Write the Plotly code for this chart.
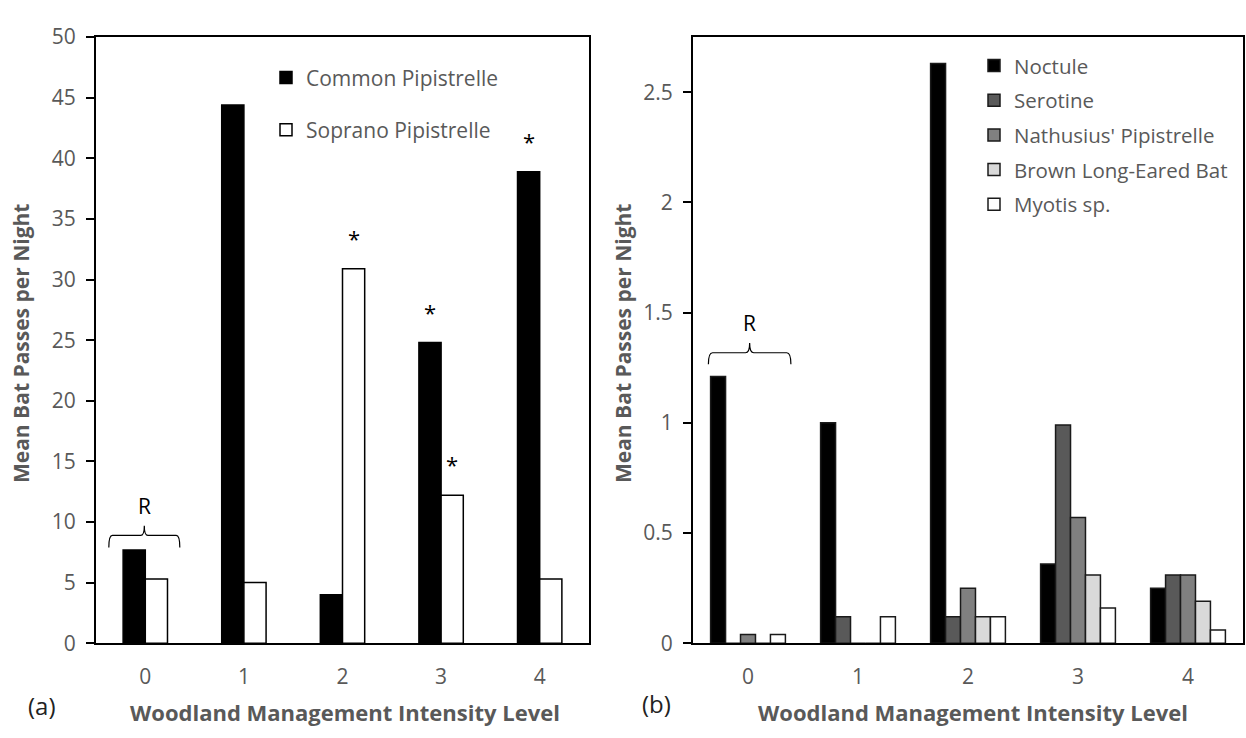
import plotly.graph_objects as go

# ---------------- data ----------------
levels = [0, 1, 2, 3, 4]
level_labels = ["0", "1", "2", "3", "4"]

common_pip = [7.7, 44.4, 4.0, 24.8, 38.9]
soprano_pip = [5.3, 5.0, 30.9, 12.2, 5.3]
common_sig = [False, False, False, True, True]
soprano_sig = [False, False, True, True, False]

noctule = [1.21, 1.0, 2.63, 0.36, 0.25]
serotine = [0.0, 0.12, 0.12, 0.99, 0.31]
nathusius = [0.04, 0.0, 0.25, 0.57, 0.31]
brown_long_eared = [0.0, 0.0, 0.12, 0.31, 0.19]
myotis = [0.04, 0.12, 0.12, 0.16, 0.06]

left_ticks = [0, 5, 10, 15, 20, 25, 30, 35, 40, 45, 50]
right_ticks = [0, 0.5, 1, 1.5, 2, 2.5]

# ---------------- styling ----------------
W, H = 1246, 738
FONT = "Open Sans"
GREY = "#595959"

def px_x(v):
    return v / W

def px_y(v):
    return 1 - v / H

fig = go.Figure()

# left panel bars
lw = 0.225
left_series = [
    ("Common Pipistrelle", common_pip, "#000000"),
    ("Soprano Pipistrelle", soprano_pip, "#ffffff"),
]
for i, (name, vals, col) in enumerate(left_series):
    fig.add_trace(go.Bar(
        x=levels, y=vals, name=name, xaxis="x", yaxis="y",
        width=lw, offset=-lw + i * lw,
        marker=dict(color=col, line=dict(color="#000000", width=1.5)),
        legend="legend", legendgroup=name,
    ))

# right panel bars
rw = 0.136
right_series = [
    ("Noctule", noctule, "#000000"),
    ("Serotine", serotine, "#595959"),
    ("Nathusius' Pipistrelle", nathusius, "#808080"),
    ("Brown Long-Eared Bat", brown_long_eared, "#d9d9d9"),
    ("Myotis sp.", myotis, "#ffffff"),
]
for i, (name, vals, col) in enumerate(right_series):
    fig.add_trace(go.Bar(
        x=levels, y=vals, name=name, xaxis="x2", yaxis="y2",
        width=rw, offset=-2.5 * rw + i * rw,
        marker=dict(color=col, line=dict(color="#1a1a1a", width=1.5)),
        legend="legend2", legendgroup=name,
    ))

annotations = []

# significance asterisks
for vals, sig, off in [(common_pip, common_sig, -lw / 2), (soprano_pip, soprano_sig, lw / 2)]:
    for lv, v, s in zip(levels, vals, sig):
        if s:
            annotations.append(dict(
                x=lv + off, y=v, xref="x", yref="y", text="*", showarrow=False,
                xanchor="center", yanchor="bottom", yshift=14,
                font=dict(family=FONT, size=22, color="#000000"),
            ))

# reference braces "R"
def brace(x0, x1, yt, yh, ys, xref, yref, dxf=0.05):
    xc = (x0 + x1) / 2
    dx = (x1 - x0) * dxf
    path = (f"M {x0},{yt} Q {x0},{yh} {x0+dx},{yh} L {xc-dx},{yh} Q {xc},{yh} {xc},{ys} "
            f"Q {xc},{yh} {xc+dx},{yh} L {x1-dx},{yh} Q {x1},{yh} {x1},{yt}")
    return dict(type="path", path=path, xref=xref, yref=yref,
                line=dict(color="#000000", width=1.2))

shapes = [
    brace(-0.37, 0.35, 7.9, 8.9, 9.7, "x", "y"),
    brace(-0.36, 0.39, 1.266, 1.318, 1.362, "x2", "y2"),
]
annotations.append(dict(x=-0.01, y=11.3, xref="x", yref="y", text="R", showarrow=False,
                        xanchor="center", yanchor="middle",
                        font=dict(family=FONT, size=21, color="#000000")))
annotations.append(dict(x=0.01, y=1.453, xref="x2", yref="y2", text="R", showarrow=False,
                        xanchor="center", yanchor="middle",
                        font=dict(family=FONT, size=21, color="#000000")))

# axis titles
for xc in [345, 973]:
    annotations.append(dict(x=px_x(xc), y=px_y(725), xref="paper", yref="paper",
                            xanchor="center", yanchor="middle",
                            text="<b>Woodland Management Intensity Level</b>", showarrow=False,
                            font=dict(family=FONT, size=22, color=GREY)))
for xc in [21, 623]:
    annotations.append(dict(x=px_x(xc), y=px_y(341), xref="paper", yref="paper",
                            xanchor="center", yanchor="middle",
                            text="<b>Mean Bat Passes per Night</b>", showarrow=False, textangle=-90,
                            font=dict(family=FONT, size=21, color=GREY)))
# panel labels
annotations.append(dict(x=px_x(42), y=px_y(718), xref="paper", yref="paper", text="(a)",
                        xanchor="center", yanchor="middle",
                        showarrow=False, font=dict(family=FONT, size=24, color="#222222")))
annotations.append(dict(x=px_x(656), y=px_y(716), xref="paper", yref="paper", text="(b)",
                        xanchor="center", yanchor="middle",
                        showarrow=False, font=dict(family=FONT, size=24, color="#222222")))

xdom1 = [px_x(96), px_x(589)]
xdom2 = [px_x(693), px_x(1243)]
ydom = [px_y(653), px_y(23)]

common_x = dict(range=[-0.5, 4.5], tickmode="array", tickvals=levels, ticktext=level_labels,
                showline=True, linecolor="#000000", linewidth=2, mirror=True, ticks="",
                showgrid=False, zeroline=False, ticklabelstandoff=14,
                tickfont=dict(family=FONT, size=21, color=GREY), fixedrange=True)
common_y = dict(showline=True, linecolor="#000000", linewidth=2, mirror=True,
                ticks="outside", ticklen=8, tickcolor="#000000", tickwidth=1.5,
                showgrid=False, zeroline=False, ticklabelstandoff=6,
                tickfont=dict(family=FONT, size=21, color=GREY), fixedrange=True)

fig.update_layout(
    width=W, height=H,
    margin=dict(l=0, r=0, t=0, b=0),
    paper_bgcolor="white", plot_bgcolor="white",
    barmode="overlay",
    font=dict(family=FONT, color=GREY),
    xaxis=dict(domain=xdom1, anchor="y", **common_x),
    yaxis=dict(domain=ydom, anchor="x", range=[0, 50], tickvals=left_ticks, **common_y),
    xaxis2=dict(domain=xdom2, anchor="y2", **common_x),
    yaxis2=dict(domain=ydom, anchor="x2", range=[0, 2.75], tickvals=right_ticks, **common_y),
    legend=dict(x=px_x(266), y=px_y(44), xanchor="left", yanchor="top",
                traceorder="grouped", tracegroupgap=22, bgcolor="rgba(0,0,0,0)",
                font=dict(family=FONT, size=21, color=GREY)),
    legend2=dict(x=px_x(974), y=px_y(32), xanchor="left", yanchor="top",
                 traceorder="grouped", tracegroupgap=5, bgcolor="rgba(0,0,0,0)",
                 font=dict(family=FONT, size=20.5, color=GREY)),
    annotations=annotations,
    shapes=shapes,
    showlegend=True,
)

fig.write_html("out.html")
